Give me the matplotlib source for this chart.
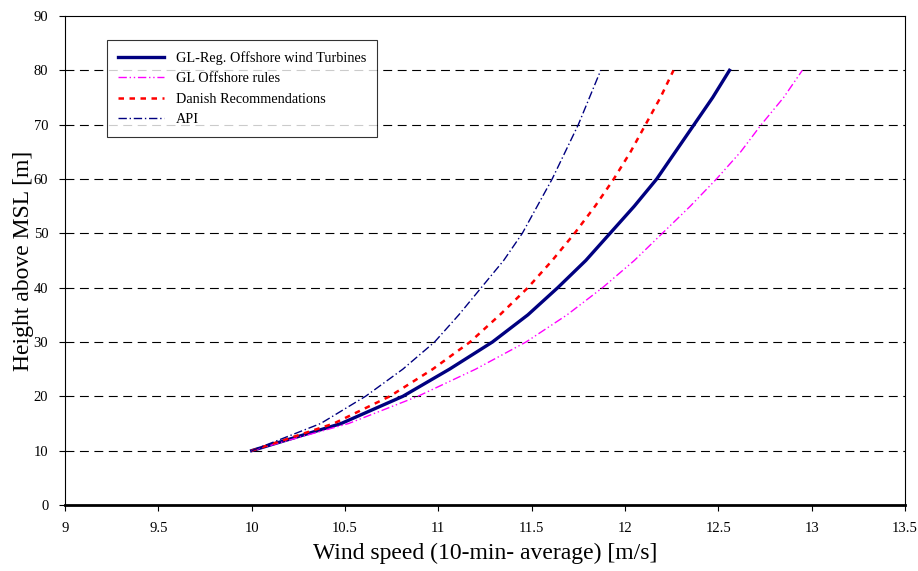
import matplotlib.pyplot as plt

plt.rcParams['font.family'] = ['Liberation Serif', 'DejaVu Serif']

# heights [m] and wind speeds [m/s]
height = [10, 15, 20, 25, 30, 35, 40, 45, 50, 55, 60, 65, 70, 75, 80]
gl_reg = [10.0, 10.48, 10.81, 11.06, 11.29, 11.48, 11.64, 11.79, 11.92, 12.05,
          12.17, 12.27, 12.37, 12.47, 12.56]
gl_offshore = [10.0, 10.52, 10.89, 11.20, 11.47, 11.69, 11.88, 12.05, 12.20, 12.35,
               12.49, 12.62, 12.73, 12.85, 12.95]
danish = [10.0, 10.44, 10.74, 10.97, 11.17, 11.33, 11.48, 11.61, 11.73, 11.84,
          11.94, 12.03, 12.11, 12.19, 12.26]
api = [10.0, 10.37, 10.61, 10.81, 10.98, 11.11, 11.23, 11.35, 11.45, 11.53,
       11.61, 11.68, 11.75, 11.81, 11.87]

fig = plt.figure(figsize=(9.18, 5.71), dpi=100)
ax = fig.add_axes([0.0708, 0.1156, 0.9150, 0.8564])

ax.plot(gl_reg, height, color='#000080', lw=2.4, label='GL-Reg. Offshore wind Turbines')
ax.plot(gl_offshore, height, color='#FF00FF', lw=1.0, dashes=[6, 2, 1, 2, 1, 2],
        label='GL Offshore rules')
ax.plot(danish, height, color='#FF0000', lw=1.8, dashes=[2.2, 2.2], label='Danish Recommendations')
ax.plot(api, height, color='#000080', lw=1.0, dashes=[6, 2, 1, 2], label='API')

ax.set_xlim(9, 13.5)
ax.set_ylim(0, 90)
ax.set_xticks([9, 9.5, 10, 10.5, 11, 11.5, 12, 12.5, 13, 13.5])
ax.set_xticklabels(['9', '9.5', '10', '10.5', '11', '11.5', '12', '12.5', '13', '13.5'])
ax.set_yticks(range(0, 91, 10))

for y in range(10, 90, 10):
    ax.axhline(y, color='black', lw=0.8, dashes=[8, 5], zorder=0)

ax.tick_params(labelsize=10.5, direction='out', length=4, width=0.8, pad=8)
for side in ['left', 'top', 'right']:
    ax.spines[side].set_linewidth(0.8)
ax.spines['bottom'].set_linewidth(2)

ax.set_xlabel('Wind speed (10-min- average) [m/s]', fontsize=17, labelpad=6)
ax.set_ylabel('Height above MSL [m]', fontsize=17, labelpad=0)

leg = ax.legend(loc='upper left', bbox_to_anchor=(0.05, 0.951), borderaxespad=0,
                fontsize=10.3, frameon=True, fancybox=False, handlelength=3.2,
                borderpad=0.8, labelspacing=0.5)
leg.get_frame().set_edgecolor('black')
leg.get_frame().set_linewidth(0.8)

fig.savefig('out.png', dpi=100)
